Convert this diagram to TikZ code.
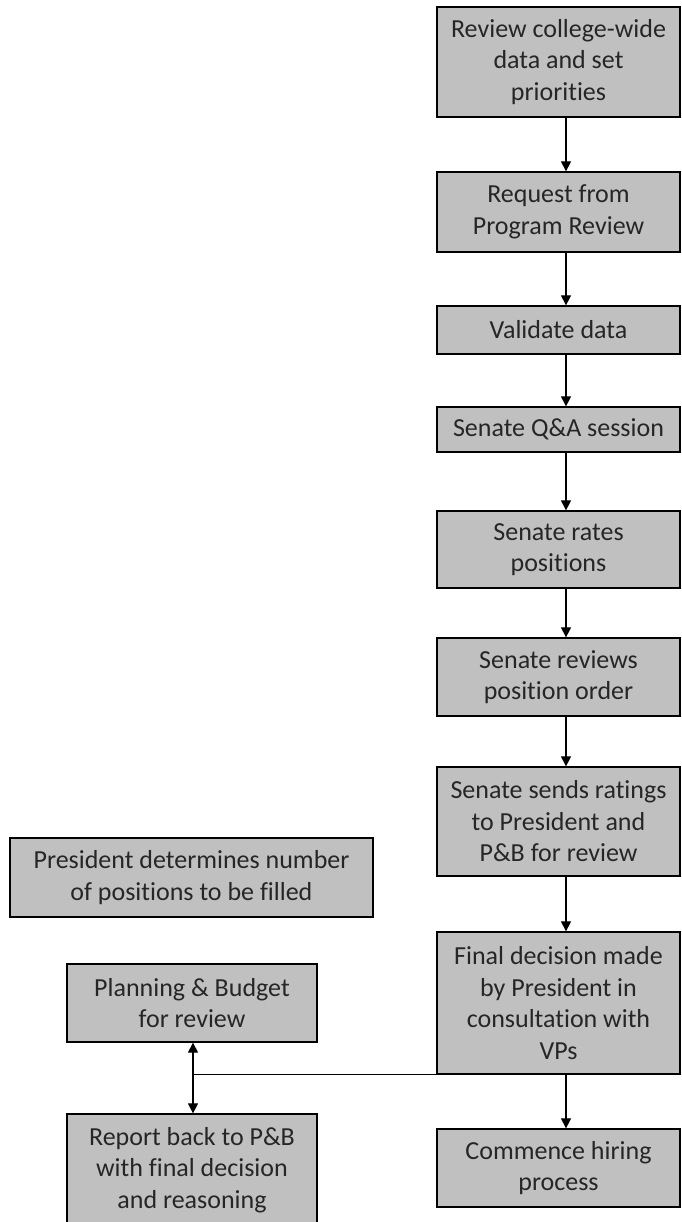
\documentclass[tikz,border=0pt]{standalone}
\usepackage{fontspec}
\setmainfont{Carlito}[Ligatures=NoCommon]
\usetikzlibrary{arrows.meta}

\begin{document}
\begin{tikzpicture}[x=1pt, y=-1pt,
    box/.style={draw=black, line width=1.3pt, fill=boxgray, text=black!85,
        align=center, inner sep=0pt, font=\fontsize{26}{31.5}\selectfont},
    flow/.style={line width=1.2pt, -{Triangle[length=10pt, width=10pt]}}]

    \definecolor{boxgray}{HTML}{C0C0C0}
    \useasboundingbox (0,0) rectangle (681,1222);
    \clip (0,0) rectangle (681,1222);

    % Spalte rechts
    \node[box, minimum width=243pt, minimum height=110pt] (review) at (558.5,62) {Review college-wide\\data and set\\priorities};
    \node[box, minimum width=243pt, minimum height=80pt] (request) at (558.5,212) {Request from\\Program Review};
    \node[box, minimum width=243pt, minimum height=48pt] (validate) at (558.5,330) {Validate data};
    \node[box, minimum width=243pt, minimum height=45pt] (qa) at (558.5,429.5) {Senate Q\&A session};
    \node[box, minimum width=243pt, minimum height=77pt] (rates) at (558.5,549.5) {Senate rates\\positions};
    \node[box, minimum width=243pt, minimum height=78pt] (order) at (558.5,677) {Senate reviews\\position order};
    \node[box, minimum width=243pt, minimum height=109pt] (sends) at (558.5,821.5) {Senate sends ratings\\to President and\\P\&B for review};
    \node[box, minimum width=243pt, minimum height=142pt] (final) at (558.5,1003) {Final decision made\\by President in\\consultation with\\VPs};
    \node[box, minimum width=243pt, minimum height=78pt] (hiring) at (558.5,1168) {Commence hiring\\process};

    % Spalte links
    \node[box, minimum width=363pt, minimum height=79pt] (number) at (191.5,877.5) {President determines number\\of positions to be filled};
    \node[box, minimum width=250pt, minimum height=78pt] (budget) at (192,1003) {Planning \& Budget\\for review};
    \node[box, minimum width=250pt, minimum height=112pt] (report) at (192,1170) {Report back to P\&B\\with final decision\\and reasoning};

    % Pfeile
    \coordinate (ax) at (566,0);
    \coordinate (lx) at (193,0);
    \foreach \a/\b in {review/request, request/validate, validate/qa, qa/rates,
        rates/order, order/sends, sends/final, final/hiring}
        \draw[flow] (\a.south -| ax) -- (\b.north -| ax);

    % Verbindung nach links
    \coordinate (J) at (final.south west -| lx);
    \draw[line width=1.2pt] (final.south west) -- (J);
    \draw[flow] (J) -- (budget.south -| lx);
    \draw[flow] (J) -- (report.north -| lx);

\end{tikzpicture}
\end{document}
